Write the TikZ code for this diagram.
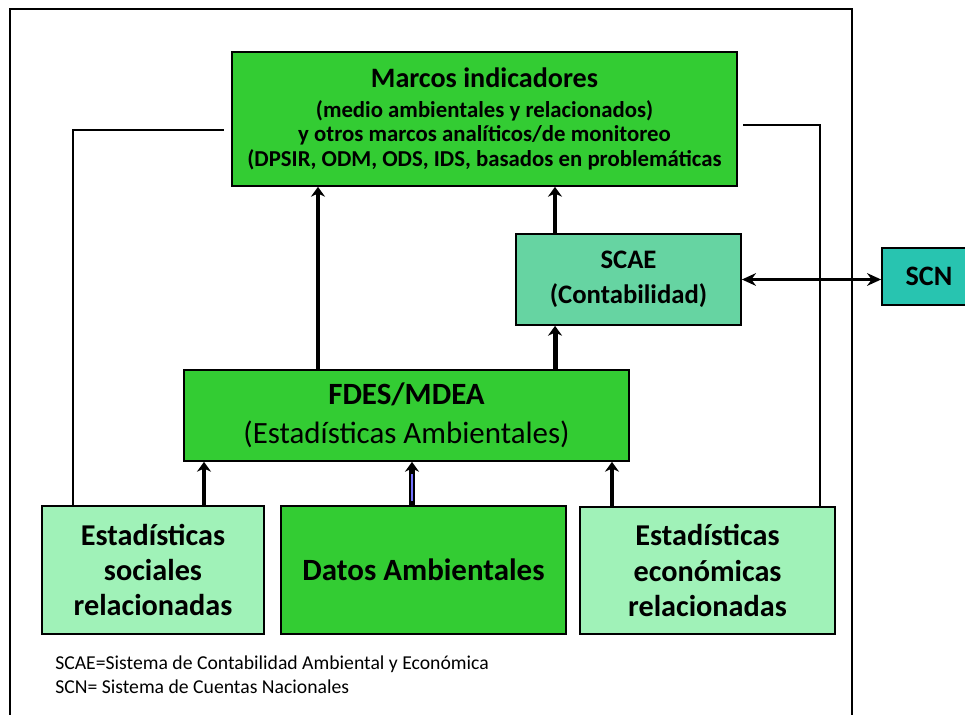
\documentclass[tikz,border=0pt]{standalone}
\usepackage{fontspec}
\setmainfont{Carlito}
\usepackage{tikz}
\usetikzlibrary{shapes.geometric, arrows.meta}
\usetikzlibrary{calc}
\definecolor{verde}{RGB}{51,204,51}
\definecolor{verdeclaro}{RGB}{160,242,184}
\definecolor{aqua}{RGB}{102,212,162}
\definecolor{turquesa}{RGB}{40,196,176}
\tikzstyle{caja} = [rectangle, text centered, align=center, draw = black, line width=1.2pt, inner sep=2pt]
\tikzstyle{marco} = [caja, fill = verde]
\tikzstyle{social} = [caja, fill = verdeclaro]
\tikzstyle{cuenta} = [caja, fill = aqua]
\tikzstyle{flecha} = [-{Stealth[length=7pt,width=10pt]}, line width=3.5pt]
\tikzstyle{arrow} = [{Stealth[length=10pt,width=9pt]}-{Stealth[length=10pt,width=9pt]}, line width=1.8pt]
\tikzstyle{lado} = [line width=2pt]

\begin{document}
\begin{tikzpicture}[x=0.025cm,y=-0.025cm]
	\useasboundingbox (0,0) rectangle (965,715);
	\draw [line width=1.2pt](10,9) rectangle (852,740);
	% cajas
	\node (MI) [marco, minimum width=12.625cm, minimum height=3.35cm,
	 font=\fontsize{16.2}{17.2}\selectfont\bfseries] at (484.5,119)
	{{\fontsize{20}{22}\selectfont Marcos indicadores}\\[4pt]
	 (medio ambientales y relacionados)\\
	 y otros marcos analíticos/de monitoreo\\
	 (DPSIR, ODM, ODS, IDS, basados en problemáticas};
	\node (SCAE) [cuenta, minimum width=5.625cm, minimum height=2.275cm,
	 font=\fontsize{19}{25}\selectfont\bfseries] at (628.5,279.5)
	{SCAE\\(Contabilidad)};
	\node (SCN) [caja, fill=turquesa, minimum width=2.35cm, minimum height=1.425cm,
	 font=\fontsize{20}{23}\selectfont\bfseries] at (929,276.5)
	{SCN};
	\node (FDES) [marco, minimum width=11.125cm, minimum height=2.275cm,
	 font=\fontsize{22}{27.5}\selectfont] at (406.5,415.5)
	{\textbf{FDES/MDEA}\\(Estadísticas Ambientales)};
	\node (ES) [social, minimum width=5.55cm, minimum height=3.2cm,
	 font=\fontsize{21.5}{25}\selectfont\bfseries] at (153,570)
	{Estadísticas\\sociales\\relacionadas};
	\node (DA) [marco, minimum width=7.125cm, minimum height=3.2cm,
	 font=\fontsize{22}{26}\selectfont\bfseries] at (423.5,570)
	{Datos Ambientales};
	\node (EE) [social, minimum width=6.375cm, minimum height=3.175cm,
	 font=\fontsize{21.5}{25}\selectfont\bfseries] at (707.5,570.5)
	{Estadísticas\\económicas\\relacionadas};
	\node (NOTA) [align=left, anchor=north west, inner sep=0pt,
	 font=\fontsize{14}{17}\selectfont] at (55,656)
	{SCAE=Sistema de Contabilidad Ambiental y Económica\\
	 SCN= Sistema de Cuentas Nacionales};
	% flechas
	\coordinate (F1) at ([xshift=-2.2125cm]FDES.north);
	\coordinate (F2) at ([xshift=3.7125cm]FDES.north);
	\coordinate (S1) at ([xshift=-1.8375cm]SCAE.north);
	\draw [flecha](F1) -- (F1 |- MI.south);
	\draw [flecha](F2) -- (SCAE.south -| F2);
	\draw [flecha](S1) -- (S1 |- MI.south);
	\draw [flecha]([xshift=1.275cm]ES.north) -- ([xshift=1.275cm]ES.north |- FDES.south);
	\draw [flecha, line width=4.5pt]([xshift=-0.2875cm]DA.north) -- ([xshift=-0.2875cm]DA.north |- FDES.south);
	\draw [line width=0.8pt, blue!55]([xshift=-0.2875cm,yshift=0.1cm]DA.north) -- ([xshift=-0.2875cm,yshift=-0.3cm]DA.north |- FDES.south);
	\draw [flecha]([xshift=-2.3875cm]EE.north) -- ([xshift=-2.3875cm]EE.north |- FDES.south);
	\draw [arrow](SCAE.east) -- (SCAE.east -| SCN.west);
	% lineas laterales
	\coordinate (L1) at ([xshift=-0.175cm,yshift=-0.275cm]MI.west);
	\coordinate (R1) at ([xshift=0.125cm,yshift=-0.15cm]MI.east);
	\draw [lado]([xshift=-2cm]ES.north) |- (L1);
	\draw [lado]([xshift=2.8125cm]EE.north) |- (R1);
\end{tikzpicture}
\end{document}
